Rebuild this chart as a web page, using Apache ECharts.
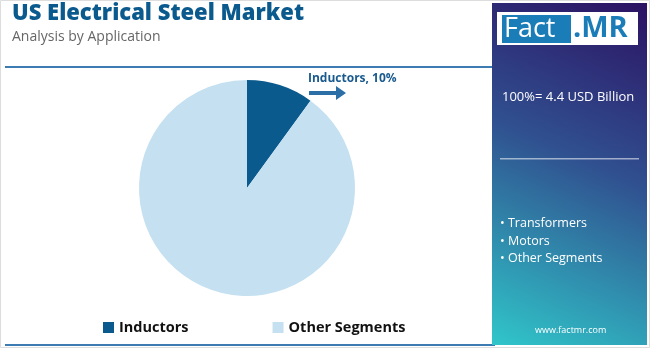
<!DOCTYPE html>
<html><head><meta charset="utf-8">
<script src="https://cdn.jsdelivr.net/npm/echarts@6/dist/echarts.min.js"></script>
<style>html,body{margin:0;padding:0;background:#fff}#c{width:650px;height:348px}</style>
</head><body><div id="c"></div>
<script>
var categories = ['Inductors', 'Other Segments'];
var values = [10, 90];
var colors = ['#0b5a8e', '#c5e0f1'];
var sideList = ['Transformers', 'Motors', 'Other Segments'];
var totalText = '100%= 4.4 USD Billion';

var chart = echarts.init(document.getElementById('c'));
var font = '"Open Sans", "Noto Sans", sans-serif';
var option = {
  animation: false,
  legend: {
    data: categories,
    left: 98, top: 315,
    itemWidth: 11, itemHeight: 11, itemGap: 84,
    icon: 'rect',
    textStyle: { fontFamily: font, fontWeight: 'bold', fontSize: 14.5, color: '#111' }
  },
  series: [{
    type: 'pie',
    center: [247, 188],
    radius: [0, 108],
    startAngle: 90,
    clockwise: true,
    label: { show: false },
    labelLine: { show: false },
    emphasis: { disabled: true },
    itemStyle: { borderWidth: 0 },
    data: categories.map(function (c, i) { return { name: c, value: values[i], itemStyle: { color: colors[i] } }; })
  }],
  graphic: [
    { type: 'rect', shape: { x: 0.5, y: 0.5, width: 649, height: 347 }, style: { fill: 'none', stroke: '#dddddd', lineWidth: 1 }, z: 0 },
    { type: 'text', left: 12, top: 3, style: { text: 'US Electrical Steel Market', font: '800 22px ' + font, fill: '#0b5a8e' } },
    { type: 'text', left: 12, top: 30, style: { text: 'Analysis by Application', font: '14px ' + font, fill: '#666' } },
    { type: 'rect', shape: { x: 5, y: 66, width: 488, height: 2 }, style: { fill: '#3d7cb3' } },
    { type: 'rect', shape: { x: 5, y: 344, width: 490, height: 2 }, style: { fill: '#3d7cb3' } },
    { type: 'text', left: 308, top: 73, style: { text: categories[0] + ', ' + values[0] + '%', font: 'bold 12px ' + font, fill: '#1a5a8f' } },
    { type: 'polygon', shape: { points: [[309, 91], [336, 91], [336, 86], [346, 93], [336, 100], [336, 95], [309, 95]] }, style: { fill: '#2c6ea6' } },
    { type: 'rect', shape: { x: 492, y: 3, width: 155, height: 342 },
      style: { fill: new echarts.graphic.LinearGradient(1, 0, 0, 1, [
        { offset: 0, color: '#2c1263' }, { offset: 0.45, color: '#30508f' }, { offset: 1, color: '#30c6ca' }]) } },
    { type: 'rect', shape: { x: 497, y: 12, width: 141, height: 33 }, style: { fill: '#ffffff' } },
    { type: 'rect', shape: { x: 502, y: 15, width: 69, height: 28 }, style: { fill: '#1a7db8' } },
    { type: 'text', x: 504, y: 29, style: { text: 'Fact', font: '27px ' + font, fill: '#ffffff', verticalAlign: 'middle' } },
    { type: 'text', x: 573, y: 29, style: { text: '.MR', font: 'bold 29px ' + font, fill: '#1a7db8', verticalAlign: 'middle' } },
    { type: 'text', left: 502, top: 91, style: { text: totalText, font: '13px ' + font, fill: '#ffffff' } },
    { type: 'rect', shape: { x: 500, y: 158, width: 139, height: 1.5 }, style: { fill: 'rgba(255,255,255,0.55)' } },
    { type: 'text', left: 500, top: 215, style: { text: sideList.map(function (s) { return '\u2022 ' + s; }).join('\n'), font: '12.5px ' + font, lineHeight: 17.5, fill: '#ffffff' } },
    { type: 'text', left: 535, top: 326, style: { text: 'www.factmr.com', font: '9px ' + font, fill: '#ffffff' } }
  ]
};
chart.setOption(option);
</script></body></html>
